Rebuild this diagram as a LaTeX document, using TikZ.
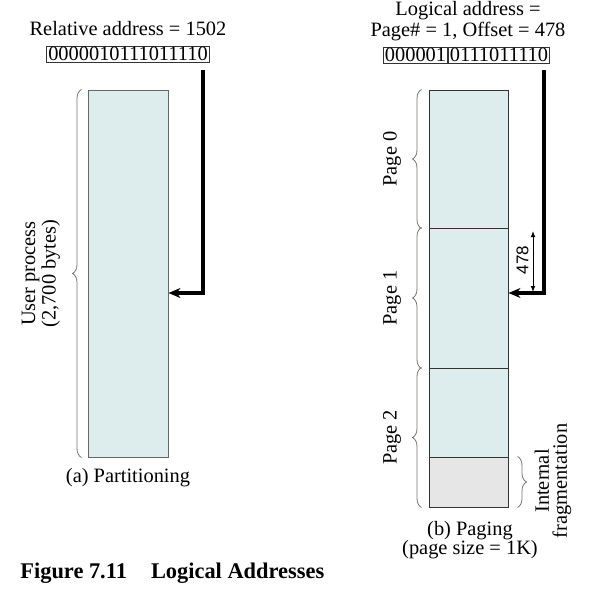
\documentclass[tikz,border=0pt]{standalone}
\usepackage{fontspec}
\setmainfont{Liberation Serif}
\setsansfont{Liberation Sans}
\usepackage{xcolor}
\usetikzlibrary{arrows.meta,decorations.pathreplacing}
\definecolor{procfill}{RGB}{221,236,236}
\definecolor{fragfill}{RGB}{230,230,230}

\begin{document}
\begin{tikzpicture}[x=0.5pt,y=-0.5pt,
    every node/.style={font=\fontsize{10.2}{9}\selectfont},
    bits/.style={draw=black!80, line width=0.5pt, inner xsep=0.7pt, inner ysep=0.55pt, text height=6.9pt, text depth=0pt},
    block/.style={draw=black!80, fill=procfill, line width=0.5pt, minimum width=39.5pt, inner sep=0pt},
    brace/.style={draw=black!55, line width=0.4pt, decorate, decoration={brace, amplitude=4.5pt}},
    addr/.style={line width=1.8pt, -{Stealth[length=6pt, width=5pt, inset=2pt]}},
    dim/.style={line width=0.5pt, {Latex[length=3pt,width=2.4pt]}-{Latex[length=3pt,width=2.4pt]}}]

  \useasboundingbox (0,0) rectangle (601,605);

  % (a) partitioning
  \node[anchor=base] (reltitle) at (128,35) {Relative address = 1502};
  \node[bits] (relbits) at (128,54) {0000010111011110};
  \node[block, draw=black!60, minimum width=40pt, minimum height=183.5pt] (part) at (128,273.5) {};
  \draw[brace] ([xshift=-3pt]part.south west) -- ([xshift=-3pt]part.north west);
  \node[rotate=90, align=center] (userlbl) at (41,273.5) {User process\\(2,700 bytes)};
  \node[anchor=base] (parttitle) at (128,482) {(a) Partitioning};
  \coordinate (reltop) at (203,70);
  \coordinate (relbend) at (203,293);
  \draw[addr] (reltop) -- (relbend) -- (part.east |- relbend);

  % (b) paging
  \node[align=center] (logtitle) at (468,21) {Logical address =\\Page\# = 1, Offset = 478};
  \node[bits, anchor=east] (pagebits) at (448,55) {000001};
  \node[bits, anchor=west] (offbits) at (pagebits.east) {0111011110};
  \node[block, minimum height=69pt] (page0) at (468.5,159) {};
  \node[block, minimum height=70pt] (page1) at (468.5,298) {};
  \node[block, minimum height=44.5pt] (page2) at (468.5,412.5) {};
  \node[block, fill=fragfill, minimum height=25pt] (frag) at (468.5,482) {};
  \draw[brace] ([xshift=-3.5pt]page0.south west) -- ([xshift=-3.5pt]page0.north west);
  \draw[brace] ([xshift=-3.5pt]page1.south west) -- ([xshift=-3.5pt]page1.north west);
  \draw[brace] ([xshift=-3.5pt]frag.south west) -- ([xshift=-3.5pt]page2.north west);
  \draw[brace] ([xshift=4.5pt]frag.north east) -- ([xshift=4.5pt]frag.south east);
  \node[rotate=90] (p0lbl) at (392,159) {Page 0};
  \node[rotate=90] (p1lbl) at (392,298) {Page 1};
  \node[rotate=90] (p2lbl) at (392,437.5) {Page 2};
  \node[rotate=90, align=center] (fraglbl) at (553,481) {Internal\\fragmentation};
  \coordinate (logtop) at (544,70);
  \coordinate (logbend) at (544,293);
  \draw[addr] (logtop) -- (logbend) -- (page1.east |- logbend);
  \coordinate (offtop) at (533,231);
  \coordinate (offbot) at (533,292);
  \draw[dim] (offtop) -- (offbot);
  \node[rotate=90, font=\sffamily\fontsize{8.5}{9}\selectfont] (offlbl) at (522.5,260) {478};
  \node[align=center, font=\fontsize{10.2}{9.5}\selectfont] (pagetitle) at (470,540) {(b) Paging\\(page size = 1K)};

  % caption
  \node[anchor=base west, inner sep=0pt, font=\bfseries\fontsize{11.2}{13}\selectfont] (caption) at (20,578) {Figure 7.11\hspace{12pt}Logical Addresses};
\end{tikzpicture}
\end{document}
